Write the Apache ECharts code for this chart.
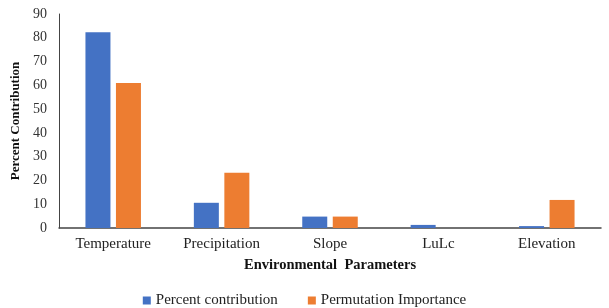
<!DOCTYPE html>
<html>
<head>
<meta charset="utf-8">
<script src="https://cdn.jsdelivr.net/npm/echarts@6/dist/echarts.min.js"></script>
<style>
html,body{margin:0;padding:0;background:#fff;}
#chart{width:609px;height:308px;}
</style>
</head>
<body>
<div id="chart"></div>
<script>
// 数据
var categories = ['Temperature', 'Precipitation', 'Slope', 'LuLc', 'Elevation'];
var percentContribution = [82.3, 10.6, 4.8, 1.3, 0.8];
var permutationImportance = [61.0, 23.2, 4.8, 0, 11.8];
var yTicks = [0, 90, 10];

var chart = echarts.init(document.getElementById('chart'));
var font = '"Liberation Serif", "DejaVu Serif", serif';

var option = {
	animation: false,
	textStyle: { fontFamily: font },
	grid: { left: 59, right: 8, top: 14, bottom: 80, containLabel: false },
	legend: {
		top: 288,
		left: 'center',
		itemWidth: 8,
		itemHeight: 8,
		itemGap: 30,
		icon: 'rect',
		textStyle: { fontFamily: font, fontSize: 15, color: '#222' },
		data: ['Percent contribution', 'Permutation Importance']
	},
	xAxis: {
		type: 'category',
		data: categories,
		name: 'Environmental  Parameters',
		nameLocation: 'middle',
		nameGap: 30,
		nameTextStyle: { fontFamily: font, fontWeight: 'bold', fontSize: 14.5, color: '#111' },
		axisLine: { lineStyle: { color: '#444', width: 1.5 } },
		axisTick: { show: false },
		axisLabel: { fontFamily: font, fontSize: 15, color: '#222', margin: 9 }
	},
	yAxis: {
		type: 'value',
		min: yTicks[0],
		max: yTicks[1],
		interval: yTicks[2],
		name: 'Percent Contribution',
		nameLocation: 'middle',
		nameGap: 35,
		nameTextStyle: { fontFamily: font, fontWeight: 'bold', fontSize: 13, color: '#111' },
		axisLine: { show: true, lineStyle: { color: '#444', width: 1 } },
		axisTick: { show: false },
		splitLine: { show: false },
		axisLabel: { fontFamily: font, fontSize: 14, color: '#333', margin: 12 }
	},
	series: [{
		name: 'Percent contribution',
		type: 'bar',
		data: percentContribution,
		barWidth: 25,
		barGap: '22%',
		itemStyle: { color: '#4472C4' }
	}, {
		name: 'Permutation Importance',
		type: 'bar',
		data: permutationImportance,
		barWidth: 25,
		itemStyle: { color: '#ED7D31' }
	}]
};
chart.setOption(option);
</script>
</body>
</html>
